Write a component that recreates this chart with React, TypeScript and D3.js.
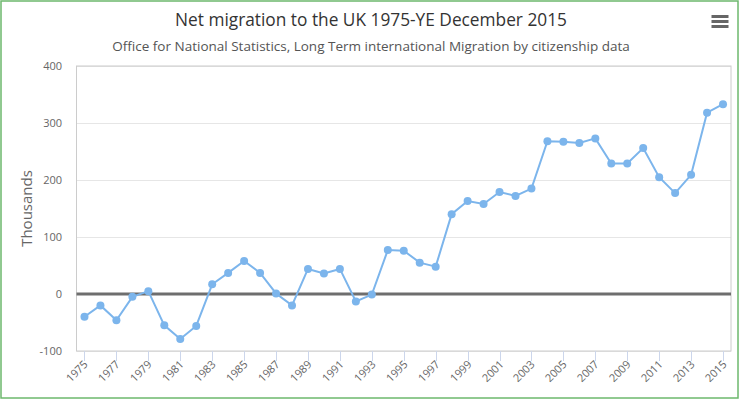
import React from "react";
import * as d3 from "d3";

const years: number[] = [
  1975, 1976, 1977, 1978, 1979, 1980, 1981, 1982, 1983, 1984,
  1985, 1986, 1987, 1988, 1989, 1990, 1991, 1992, 1993, 1994,
  1995, 1996, 1997, 1998, 1999, 2000, 2001, 2002, 2003, 2004,
  2005, 2006, 2007, 2008, 2009, 2010, 2011, 2012, 2013, 2014, 2015,
];
const netMigration: number[] = [
  -40, -20, -46, -5, 5, -55, -79, -56, 17, 37,
  58, 37, 1, -20, 44, 36, 44, -13, -1, 77,
  76, 55, 48, 140, 163, 158, 179, 172, 185, 268,
  267, 265, 273, 229, 229, 256, 205, 177, 209, 318, 333,
];
const yTicks: number[] = [-100, 0, 100, 200, 300, 400];
const xTickYears: number[] = years.filter((y) => (y - 1975) % 2 === 0);

const title = "Net migration to the UK 1975-YE December 2015";
const subtitle = "Office for National Statistics, Long Term international Migration by citizenship data";
const yTitle = "Thousands";

const W = 740;
const H = 399;
const plot = { left: 76.5, right: 731, top: 66, bottom: 351 };
const FONT = "'Open Sans', 'DejaVu Sans', sans-serif";

export default function App() {
  const x = d3
    .scalePoint<number>()
    .domain(years)
    .range([plot.left, plot.right])
    .padding(0.5);
  const y = d3.scaleLinear().domain([-100, 400]).range([plot.bottom, plot.top]);
  const line = d3
    .line<number>()
    .x((_, i) => x(years[i]) as number)
    .y((d) => y(d));

  return (
    <svg
      width={W}
      height={H}
      style={{ position: "absolute", left: 0, top: 0, fontFamily: FONT }}
    >
      <rect x={0} y={0} width={W} height={H} fill="#ffffff" />
      <rect x={1} y={1} width={737} height={397} fill="none" stroke="#6cb86c" strokeWidth={1.5} />

      {/* gridlines */}
      {yTicks.map((t) => (
        <line
          key={"g" + t}
          x1={plot.left}
          x2={plot.right}
          y1={Math.round(y(t)) + 0.5}
          y2={Math.round(y(t)) + 0.5}
          stroke="#e6e6e6"
          strokeWidth={1}
        />
      ))}
      {/* plot border */}
      <rect
        x={plot.left}
        y={plot.top}
        width={plot.right - plot.left}
        height={plot.bottom - plot.top}
        fill="none"
        stroke="#cccccc"
        strokeWidth={1}
      />
      {/* x ticks */}
      {xTickYears.map((yr) => {
        const px = Math.round(x(yr) as number) + 0.5;
        return (
          <g key={"xt" + yr}>
            <line x1={px} x2={px} y1={plot.bottom} y2={plot.bottom + 10} stroke="#ccd6eb" strokeWidth={1} />
            <text
              transform={`translate(${px + 4},${plot.bottom + 14}) rotate(-45)`}
              textAnchor="end"
              fontSize={11}
              fill="#666666"
            >
              {yr}
            </text>
          </g>
        );
      })}
      {/* y labels */}
      {yTicks.map((t) => (
        <text
          key={"yl" + t}
          x={62}
          y={y(t) + 4}
          textAnchor="end"
          fontSize={11}
          fill="#666666"
        >
          {t}
        </text>
      ))}
      <text
        transform={`translate(32,${(plot.top + plot.bottom) / 2}) rotate(-90)`}
        textAnchor="middle"
        fontSize={15}
        fill="#666666"
      >
        {yTitle}
      </text>

      {/* zero plot line */}
      <line
        x1={plot.left}
        x2={plot.right}
        y1={y(0)}
        y2={y(0)}
        stroke="#6e6e6e"
        strokeWidth={3}
      />

      {/* series */}
      <path d={line(netMigration) || ""} fill="none" stroke="#7cb5ec" strokeWidth={2} />
      {netMigration.map((v, i) => (
        <circle key={"p" + i} cx={x(years[i]) as number} cy={y(v)} r={4} fill="#7cb5ec" />
      ))}

      {/* titles */}
      <text x={371} y={26} textAnchor="middle" fontSize={17.3} fill="#333333">
        {title}
      </text>
      <text x={371} y={51} textAnchor="middle" fontSize={13.5} fill="#555555">
        {subtitle}
      </text>

      {/* menu icon */}
      {[0, 1, 2].map((i) => (
        <rect key={"m" + i} x={711.5} y={15 + i * 5} width={17} height={3} fill="#666666" />
      ))}
    </svg>
  );
}
